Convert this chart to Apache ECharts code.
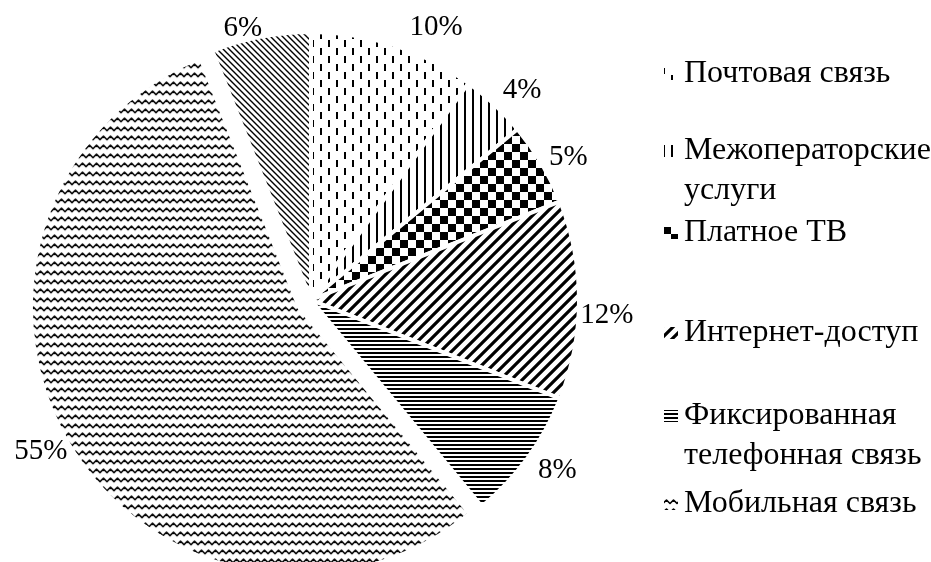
<!DOCTYPE html>
<html>
<head>
<meta charset="utf-8">
<script src="https://cdn.jsdelivr.net/npm/echarts@6/dist/echarts.min.js"></script>
<style>
  html, body { margin: 0; padding: 0; background: #fff; }
  #chart { width: 931px; height: 562px; }
</style>
</head>
<body>
<div id="chart"></div>
<script>
// доли услуг связи, % (по часовой стрелке от 12 часов)
const categories = ['Почтовая связь', 'Межоператорские\nуслуги', 'Платное ТВ', 'Интернет-доступ',
  'Фиксированная\nтелефонная связь', 'Мобильная связь', 'Прочие услуги']
const shares = [10, 4, 5, 12, 8, 55, 6]
const legendNames = categories.slice(0, 6)
const explodedIndex = 5

// геометрия круга
const pieCenter = [311, 300]
const pieRadius = 268
// подписи: сдвиг угла (град.) и расстояние от центра
const labelNudge = [6.3, 1.5, 1.0, 2.3, -2.0, 0, -3.1]
const labelDist = [304, 300, 296, 296, 297, 0, 284]
const labelDy = 4
// вертикальные центры первых строк легенды
const legendRowY = [74, 151, 233, 333, 416, 504]

const font = 'Liberation Serif'

// штриховки
function tile (w, h, paint) {
  const c = document.createElement('canvas')
  c.width = w
  c.height = h
  const ctx = c.getContext('2d')
  ctx.fillStyle = '#fff'
  ctx.fillRect(0, 0, w, h)
  ctx.fillStyle = '#000'
  ctx.strokeStyle = '#000'
  paint(ctx, w, h)
  return { image: c, repeat: 'repeat' }
}

const fills = [
  // пунктир
  tile(16, 16, ctx => { ctx.fillRect(0, 0, 2, 7); ctx.fillRect(8, 8, 2, 7) }),
  // вертикальные линии
  tile(8, 1, ctx => { ctx.fillRect(0, 0, 2, 1) }),
  // шахматка
  tile(16, 16, ctx => { ctx.fillRect(0, 0, 8, 8); ctx.fillRect(8, 8, 8, 8) }),
  // широкая диагональ /
  tile(11, 11, (ctx, w, h) => {
    ctx.lineWidth = 3.2
    ctx.beginPath()
    ctx.moveTo(-2, 2); ctx.lineTo(2, -2)
    ctx.moveTo(0, h); ctx.lineTo(w, 0)
    ctx.moveTo(w - 2, h + 2); ctx.lineTo(w + 2, h - 2)
    ctx.stroke()
  }),
  // горизонтальные линии
  tile(1, 4, ctx => { ctx.fillRect(0, 0, 1, 2) }),
  // волна
  tile(14, 9, ctx => {
    ctx.lineWidth = 1.6
    ctx.lineJoin = 'round'
    ctx.beginPath()
    ctx.moveTo(-3.5, 3); ctx.lineTo(0, 6.5); ctx.lineTo(3.5, 3); ctx.lineTo(7, 6.5)
    ctx.lineTo(10.5, 3); ctx.lineTo(14, 6.5); ctx.lineTo(17.5, 3)
    ctx.stroke()
  }),
  // тонкая диагональ \
  tile(6, 6, (ctx, w, h) => {
    ctx.lineWidth = 1.4
    ctx.beginPath()
    ctx.moveTo(0, 0); ctx.lineTo(w, h)
    ctx.moveTo(-2, h - 2); ctx.lineTo(2, h + 2)
    ctx.moveTo(w - 2, -2); ctx.lineTo(w + 2, 2)
    ctx.stroke()
  })
]

// середины секторов, градусы от 12 часов по часовой
const total = shares.reduce((a, b) => a + b, 0)
const midAngles = []
let acc = 0
shares.forEach(v => {
  midAngles.push((acc + v / 2) / total * 360)
  acc += v
})

const pieData = categories.map((name, i) => {
  const item = {
    name,
    value: shares[i],
    itemStyle: { color: fills[i] }
  }
  if (i === explodedIndex) {
    // выдвинутый сектор: подпись остаётся на штатном месте, только короче выноска
    item.selected = true
    item.labelLine = { length: 15, length2: -17 }
  }
  return item
})

// отдельная легенда на каждую строку — у Excel шаг между ними неравный
const lh = 40
const legends = legendNames.map((name, i) => {
  const twoLines = name.indexOf('\n') >= 0
  return {
    data: [name],
    orient: 'vertical',
    left: 662,
    // у двухстрочных добавляем пустую строку сверху, чтобы значок стоял у первой строки
    top: twoLines ? legendRowY[i] - 1.5 * lh : legendRowY[i] - lh / 2,
    padding: 0,
    icon: 'rect',
    itemWidth: 16,
    itemHeight: 14,
    selectedMode: false,
    formatter: n => (twoLines ? '\u00a0\n' + n : n),
    textStyle: {
      fontFamily: font,
      fontSize: 32,
      color: '#000',
      lineHeight: lh
    }
  }
})

const chart = echarts.init(document.getElementById('chart'), null, { renderer: 'canvas' })
chart.setOption({
  backgroundColor: '#fff',
  animation: false,
  legend: legends,
  series: [
    {
      type: 'pie',
      center: pieCenter,
      radius: pieRadius,
      startAngle: 90,
      clockwise: true,
      selectedMode: 'multiple',
      selectedOffset: 14,
      avoidLabelOverlap: false,
      itemStyle: { borderColor: '#fff', borderWidth: 4 },
      select: { itemStyle: { borderColor: '#fff', borderWidth: 4 } },
      emphasis: { scale: false },
      label: {
        show: true,
        position: 'outside',
        formatter: '{c}%',
        fontFamily: font,
        fontSize: 29,
        color: '#000'
      },
      labelLine: { show: false },
      labelLayout: params => {
        const i = params.dataIndex
        if (i === explodedIndex) return {}
        const a = (midAngles[i] + labelNudge[i]) * Math.PI / 180
        return {
          x: pieCenter[0] + labelDist[i] * Math.sin(a),
          y: pieCenter[1] - labelDist[i] * Math.cos(a) + labelDy,
          align: 'center',
          verticalAlign: 'middle'
        }
      },
      data: pieData
    }
  ]
})

window.addEventListener('resize', () => {
  chart.resize()
})
</script>
</body>
</html>
